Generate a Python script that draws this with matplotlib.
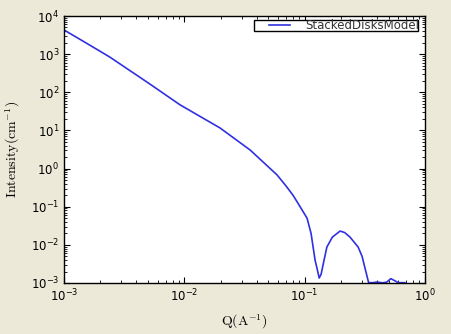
import matplotlib
matplotlib.use('Agg')
import matplotlib.pyplot as plt
from matplotlib.legend_handler import HandlerLine2D

# valeurs (Q en A^-1, intensite en cm^-1)
q = [1.0e-3, 1.5e-3, 2.4e-3, 3.2e-3, 5.0e-3, 9.2e-3, 0.0198, 0.0352, 0.045,
     0.059, 0.070, 0.080, 0.090, 0.1047, 0.113, 0.122, 0.128, 0.132, 0.137,
     0.145, 0.153, 0.170, 0.197, 0.215, 0.238, 0.278, 0.300, 0.340, 0.370,
     0.400, 0.440, 0.480, 0.520, 0.560, 0.600, 0.680]
intensity = [4300, 2030, 840, 456, 177, 47, 11.6, 3.07, 1.5,
             0.68, 0.35, 0.20, 0.11, 0.05, 0.02, 0.004, 0.0021, 0.00135, 0.0017,
             0.004, 0.0088, 0.016, 0.023, 0.021, 0.016, 0.0088, 0.005, 0.00102, 0.00102,
             0.00106, 0.00101, 0.00105, 0.0013, 0.00115, 0.00102, 0.00102]
label = 'StackedDisksModel'

plt.rcParams['mathtext.fontset'] = 'cm'

fig = plt.figure(figsize=(4.51, 3.34), dpi=100, facecolor='#ece9d8')
ax = fig.add_axes([64/451, 51/334, 361/451, 267/334])
line, = ax.plot(q, intensity, color='#3030e0', lw=1.2, label=label)
ax.set_xscale('log')
ax.set_yscale('log')
ax.set_xlim(1e-3, 1)
ax.set_ylim(1e-3, 1e4)

ax.tick_params(which='both', direction='in', top=True, right=True, labelsize=8.5)
ax.tick_params(which='major', length=4)
ax.tick_params(which='minor', length=2)
for s in ax.spines.values():
    s.set_linewidth(1.0)

ax.set_xlabel(r'$\mathrm{Q(A^{-1})}$', fontsize=10, labelpad=6)
ax.set_ylabel(r'$\mathrm{Intensity(cm^{-1})}$', fontsize=10, labelpad=6)

# poignee decalee vers la droite comme dans l'ancien style de legende
leg = ax.legend(loc='upper right', bbox_to_anchor=((418-64)/361, (283-20)/267),
                borderaxespad=0, fontsize=8.5, fancybox=False, framealpha=1,
                borderpad=-0.1, handlelength=3.1, handletextpad=1.3,
                handler_map={line: HandlerLine2D(xpad=1.35)})
leg.get_frame().set_edgecolor('black')
leg.get_frame().set_linewidth(1.0)
for t in leg.get_texts():
    t.set_color('#333333')

fig.savefig('out.png', dpi=100, facecolor=fig.get_facecolor())
